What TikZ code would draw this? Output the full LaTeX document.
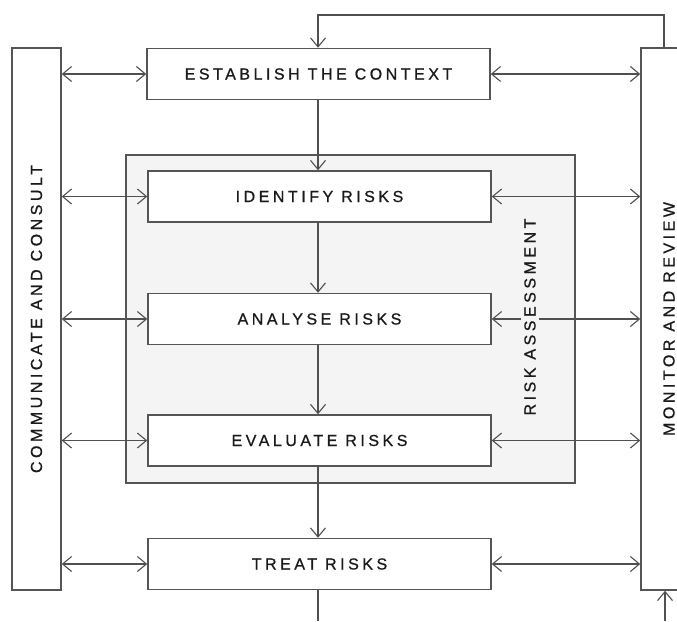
\documentclass[tikz,border=0pt]{standalone}
\usepackage{fontspec}
\setmainfont{Liberation Sans}
\newfontfamily\labfont[LetterSpace=22,FakeBold=0.8]{Liberation Sans}
\usetikzlibrary{arrows.meta}
\definecolor{lncol}{HTML}{505050}
\definecolor{bdcol}{HTML}{555555}
\definecolor{txtcol}{HTML}{1a1a1a}
\definecolor{rafill}{HTML}{F4F4F4}
\tikzset{
  box/.style={draw=bdcol, line width=1.5pt, fill=white, minimum width=343pt, minimum height=51pt, inner sep=0pt,
    font=\labfont\fontsize{16}{19}\selectfont, text=txtcol},
  colbox/.style={draw=bdcol, line width=1.5pt, fill=white, inner sep=0pt},
  collabel/.style={rotate=90, inner sep=0pt, font=\labfont\fontsize{16}{19}\selectfont, text=txtcol},
  rabox/.style={draw=bdcol, line width=1.5pt, fill=rafill, inner sep=0pt, minimum width=449pt, minimum height=328pt},
  ar/.style={draw=lncol, line width=1.1pt, -{Straight Barb[length=9pt,width=15pt,line width=1.1pt]}},
  dbl/.style={draw=lncol, line width=1.1pt, {Straight Barb[length=9pt,width=15pt,line width=1.1pt]}-{Straight Barb[length=9pt,width=15pt,line width=1.1pt]}},
  plainline/.style={draw=lncol, line width=1.1pt}
}
\begin{document}
\begin{tikzpicture}[x=1pt,y=-1pt]
\useasboundingbox (0,0) rectangle (677,621);
\node[rabox] (ra) at (350.5,319) {};
\node[box] (est) at (318.5,74) {ESTABLISH THE CONTEXT};
\node[box] (idr) at (319.5,196.5) {IDENTIFY RISKS};
\node[box] (anr) at (319.5,319) {ANALYSE RISKS};
\node[box] (evr) at (319.5,440.5) {EVALUATE RISKS};
\node[box] (trr) at (319.5,564) {TREAT RISKS};
\node[colbox, minimum width=49pt, minimum height=542pt] (cc) at (36.5,319) {};
\node[collabel] (cclab) at (cc.center) {COMMUNICATE AND CONSULT};
\node[colbox, minimum width=56pt, minimum height=542pt] (mr) at (669,319) {};
\node[collabel] (mrlab) at (mr.center) {MONITOR AND REVIEW};
% vertical flow
\draw[ar] (est.south -| 318,0) -- (idr.north -| 318,0);
\draw[ar] (idr.south -| 318,0) -- (anr.north -| 318,0);
\draw[ar] (anr.south -| 318,0) -- (evr.north -| 318,0);
\draw[ar] (evr.south -| 318,0) -- (trr.north -| 318,0);
\coordinate (tbot) at (318,621);
\draw[plainline] (trr.south -| tbot) -- (tbot);
% feedback loop
\coordinate (fb) at (664,15);
\draw[ar] (fb |- mr.north) -- (fb) -| (est.north -| 318,0);
\coordinate (bt) at (665,621);
\draw[ar] (bt) -- (bt |- mr.south);
% double arrows
\foreach \b in {est,idr,anr,evr,trr}{
  \draw[dbl] (cc.east |- \b.west) -- (\b.west);
  \draw[dbl] (\b.east) -- (mr.west |- \b.east);
}
\node[collabel, fill=rafill, inner xsep=4pt, inner ysep=3pt] (ralab) at (530,317) {RISK ASSESSMENT};
\end{tikzpicture}
\end{document}
